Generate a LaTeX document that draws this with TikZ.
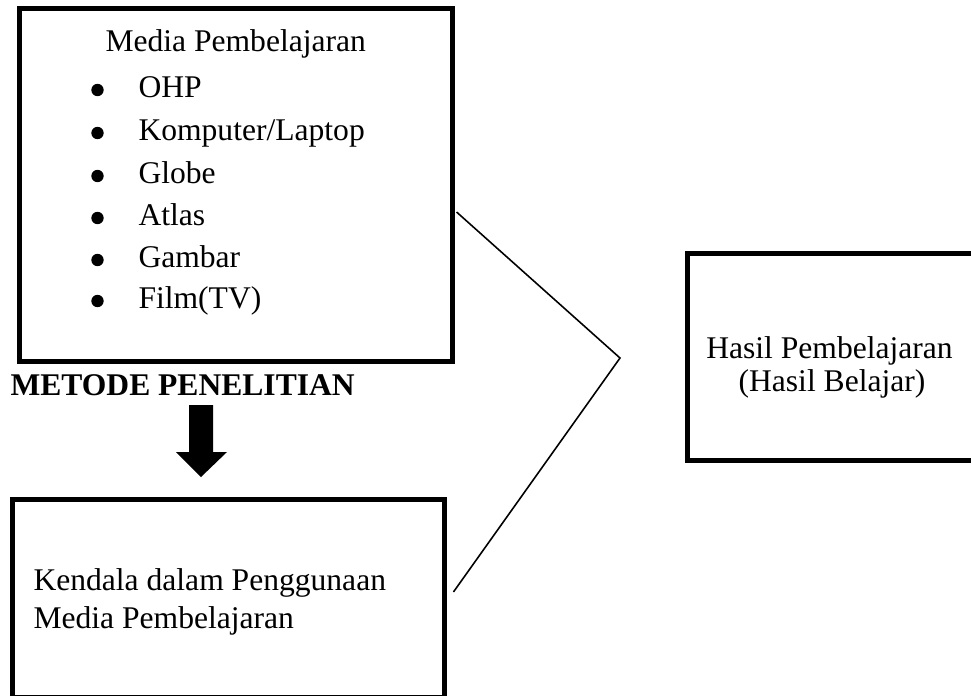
\documentclass[tikz,border=0pt]{standalone}
\usepackage{fontspec}
\setmainfont{Liberation Serif}

\begin{document}
\begin{tikzpicture}[x=0.38pt,y=-0.38pt,
        box/.style={draw,line width=1.9pt,inner sep=0pt},
        txt/.style={anchor=base west,inner sep=0pt,font=\fontsize{12}{14}\selectfont},
        mid/.style={txt,anchor=base},
        dot/.style={circle,fill,inner sep=0pt,minimum size=4.7pt},
        link/.style={line width=0.6pt}]
    \useasboundingbox (0,0) rectangle (971,695);
    \node[box,minimum width=164.2pt,minimum height=133.8pt] (media) at (236,185) {};
    \node[box,minimum width=164.5pt,minimum height=74.9pt] (kendala) at (228.5,598.5) {};
    \node[box,minimum width=109.4pt,minimum height=78.3pt] (hasil) at (831,357) {};
    %
    \node[txt] (mediatitle) at (105,51) {Media Pembelajaran};
    \node[txt] (ohp) at (138,97) {OHP};
    \node[txt] (komputer) at (138,140) {Komputer/Laptop};
    \node[txt] (globe) at (138,183) {Globe};
    \node[txt] (atlas) at (138,225) {Atlas};
    \node[txt] (gambar) at (138,267) {Gambar};
    \node[txt] (film) at (138,308) {Film(TV)};
    \node[dot] (ohpdot) at (97.5,90) {};
    \node[dot] (komputerdot) at (97.5,133) {};
    \node[dot] (globedot) at (97.5,176) {};
    \node[dot] (atlasdot) at (97.5,218) {};
    \node[dot] (gambardot) at (97.5,260) {};
    \node[dot] (filmdot) at (97.5,301) {};
    %
    \node[txt,font=\fontsize{12}{14}\selectfont\bfseries] (metode) at (10,395) {METODE PENELITIAN};
    \fill (189,405) -- (213,405) -- (213,452) -- (227,452) -- (201,477) -- (176,452) -- (189,452) -- cycle;
    %
    \node[txt] (kendala1) at (33,590) {Kendala dalam Penggunaan};
    \node[txt] (kendala2) at (33,628) {Media Pembelajaran};
    \node[mid] (hasil1) at (829.5,358) {Hasil Pembelajaran};
    \node[mid] (hasil2) at (832,391) {(Hasil Belajar)};
    %
    \coordinate (join) at (620,358);
    \draw[link] ([shift={(2,27)}]media.east) -- (join) -- ([shift={(6,-6.5)}]kendala.east);
\end{tikzpicture}
\end{document}
